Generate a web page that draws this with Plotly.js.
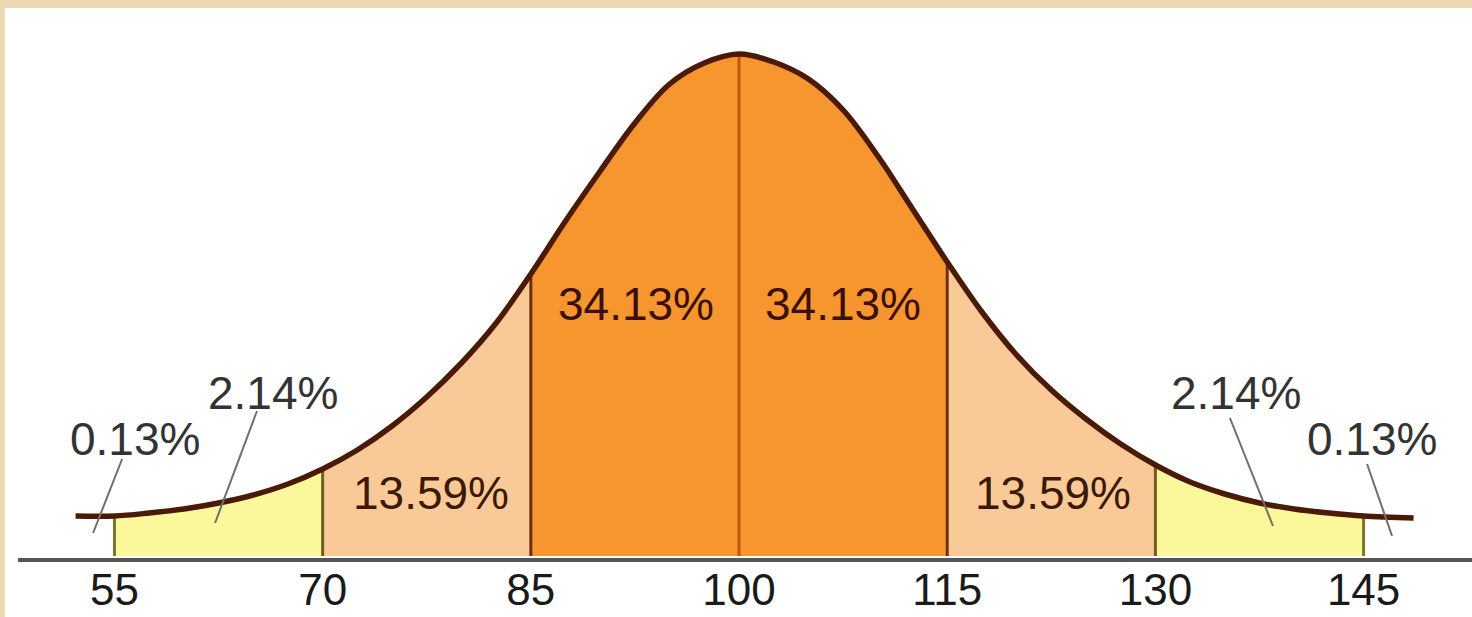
<!DOCTYPE html>
<html>
<head>
<meta charset="utf-8">
<script src="https://cdn.plot.ly/plotly-3.0.1.min.js"></script>
<style>html,body{margin:0;padding:0;background:#fff;}#chart{width:1472px;height:617px;}</style>
</head>
<body>
<div id="chart"></div>
<script>
// IQ scale (mean 100, SD 15) — curve heights
const curveX = [52.2, 55, 57.5, 60, 62.5, 65, 67.5, 70, 72.5, 75, 77.5, 80, 82.5, 85, 87.5, 90, 92.5, 95, 97.5, 100,
                102.5, 105, 107.5, 110, 112.5, 115, 117.5, 120, 122.5, 125, 127.5, 130, 132.5, 135, 137.5, 140, 142.5, 145, 148.6];
const curveH = [40, 40, 43, 47, 53, 61, 72, 87, 106, 130, 159, 193, 233, 282, 335, 385, 433, 472, 493, 502,
                494, 477, 446, 400, 347, 294, 244, 201, 166, 137, 112, 91, 74, 62, 53, 47, 43, 40, 38];

const tickValues = [55, 70, 85, 100, 115, 130, 145];
const tickLabels = ["55", "70", "85", "100", "115", "130", "145"];

const bandStart = [55, 70, 85, 100, 115, 130];
const bandEnd   = [70, 85, 100, 115, 130, 145];
const bandColor = ["#FBF89C", "#FAC998", "#F7952F", "#F7952F", "#FAC998", "#FBF89C"];

const dividerX     = [55, 70, 85, 100, 115, 130, 145];
const dividerColor = ["#7A7530", "#6E5E22", "#6A3010", "#C0560A", "#6A3010", "#6E5E22", "#7A7530"];

const pctText  = ["0.13%", "2.14%", "13.59%", "34.13%", "34.13%", "13.59%", "2.14%", "0.13%"];
const pctX     = [56.48, 66.43, 77.81, 92.58, 107.49, 122.62, 135.81, 145.6];
const pctY     = [117, 163, 63, 252, 252, 63, 163, 117];
const pctColor = ["#333333", "#333333", "#3A1A05", "#3A1005", "#3A1005", "#3A1A05", "#333333", "#333333"];

// leader lines: [x0, y0] -> [x1, y1]
const leaderX0 = [55.55, 65.27, 135.37, 145.25];
const leaderY0 = [97, 145, 138, 92];
const leaderX1 = [53.46, 62.25, 138.47, 147.05];
const leaderY1 = [23, 33, 30, 20];

const traces = [];
for (let i = 0; i < bandStart.length; i++) {
  const xs = [], ys = [];
  curveX.forEach((x, j) => { if (x >= bandStart[i] && x <= bandEnd[i]) { xs.push(x); ys.push(curveH[j]); } });
  traces.push({x: xs, y: ys, type: 'scatter', mode: 'lines', fill: 'tozeroy',
    fillcolor: bandColor[i], line: {width: 0, shape: 'spline', color: bandColor[i]}, hoverinfo: 'skip', showlegend: false});
}
dividerX.forEach((d, i) => {
  const h = curveH[curveX.indexOf(d)];
  traces.push({x: [d, d], y: [0, h], type: 'scatter', mode: 'lines',
    line: {width: 3, color: dividerColor[i]}, hoverinfo: 'skip', showlegend: false});
});
traces.push({x: curveX, y: curveH, type: 'scatter', mode: 'lines',
  line: {width: 5.5, color: '#4A1A05', shape: 'spline'}, hoverinfo: 'skip', showlegend: false});

const shapes = [
  {type: 'rect', xref: 'paper', yref: 'paper', x0: -0.0124, x1: 1.0, y0: 1.0, y1: 1.0146, fillcolor: '#EDD8B6', line: {width: 0}, layer: 'above'},
  {type: 'rect', xref: 'paper', yref: 'paper', x0: -0.0124, x1: -0.0090, y0: -0.11, y1: 1.0146, fillcolor: '#EDD8B6', line: {width: 0}, layer: 'above'}
];
for (let i = 0; i < leaderX0.length; i++) {
  shapes.push({type: 'line', xref: 'x', yref: 'y', x0: leaderX0[i], y0: leaderY0[i], x1: leaderX1[i], y1: leaderY1[i],
    line: {color: '#6E6E6E', width: 2}, layer: 'above'});
}

const annotations = pctText.map((t, i) => ({
  x: pctX[i], y: pctY[i], xref: 'x', yref: 'y', text: t, showarrow: false,
  xanchor: 'center', yanchor: 'middle',
  font: {family: 'Liberation Sans, Arial, sans-serif', size: 46, color: pctColor[i]}
}));

const layout = {
  width: 1472, height: 617,
  margin: {l: 18, r: 0, t: 8, b: 59},
  paper_bgcolor: '#ffffff', plot_bgcolor: '#ffffff',
  showlegend: false,
  xaxis: {range: [48.05, 152.81], tickmode: 'array', tickvals: tickValues, ticktext: tickLabels,
    showgrid: false, zeroline: false, showline: true, linecolor: '#555555', linewidth: 3.5,
    ticks: '', ticklabelstandoff: -9, fixedrange: true,
    tickfont: {family: 'Liberation Sans, Arial, sans-serif', size: 44, color: '#1A1A1A'}},
  yaxis: {range: [-2, 548], showgrid: false, zeroline: false, showline: false, showticklabels: false, ticks: '', fixedrange: true},
  shapes: shapes,
  annotations: annotations
};

Plotly.newPlot('chart', traces, layout, {displayModeBar: false, staticPlot: true});
</script>
</body>
</html>
